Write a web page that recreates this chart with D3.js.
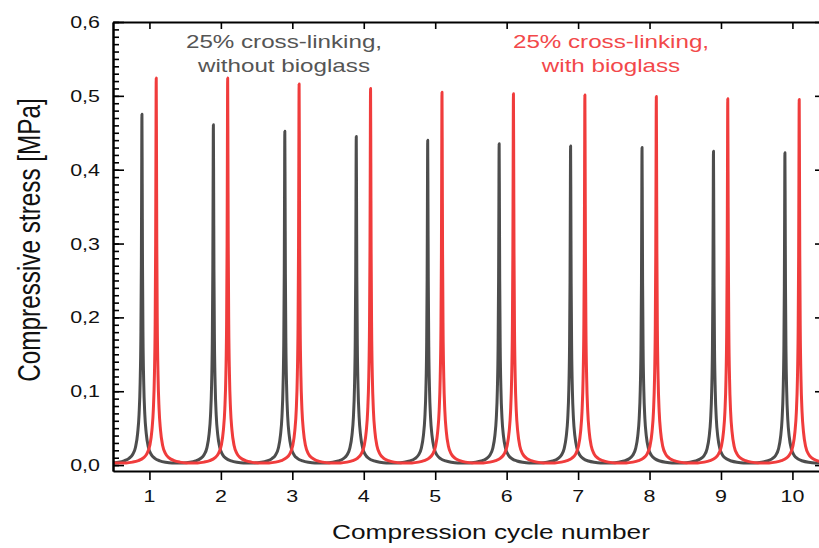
<!DOCTYPE html>
<html>
<head>
<meta charset="utf-8">
<script src="https://cdn.jsdelivr.net/npm/d3@7"></script>
<style>
  body { margin: 0; background: #fff; }
  svg { display: block; font-family: 'Liberation Sans', Arial, sans-serif; }
</style>
</head>
<body>
<svg id="chart" width="819" height="548"></svg>
<script>
// peak positions (cycle axis) and peak stress [MPa]
const grayPeakX = [0.895, 1.895, 2.895, 3.895, 4.895, 5.895, 6.895, 7.895, 8.895, 9.895]
const grayPeakStress = [0.475, 0.461, 0.452, 0.445, 0.440, 0.435, 0.432, 0.430, 0.425, 0.423]
const redPeakX = [1.095, 2.095, 3.095, 4.095, 5.095, 6.095, 7.095, 8.095, 9.095, 10.095]
const redPeakStress = [0.524, 0.524, 0.516, 0.510, 0.505, 0.503, 0.501, 0.499, 0.496, 0.495]

// shape of one loading peak: distance from the tip vs share of the peak height
const peakShapeDx = [0, 0.004, 0.008, 0.015, 0.025, 0.04, 0.06, 0.09, 0.13, 0.18, 0.25, 0.33, 0.42]
const peakShapeFrac = [1, 0.8, 0.57, 0.36, 0.23, 0.14, 0.085, 0.045, 0.024, 0.013, 0.006, 0.002, 0]
const baselineStress = 0.003

const xTicks = [1, 2, 3, 4, 5, 6, 7, 8, 9, 10]
const xTickLabels = ['1', '2', '3', '4', '5', '6', '7', '8', '9', '10']
const yTicks = [0, 0.1, 0.2, 0.3, 0.4, 0.5, 0.6]
const yTickLabels = ['0,0', '0,1', '0,2', '0,3', '0,4', '0,5', '0,6']
const yMinorTicks = d3.range(0, 61).map((d) => d / 100)

const grayText = ['25% cross-linking,', 'without bioglass']
const redText = ['25% cross-linking,', 'with bioglass']

const GRAY = '#4d4d4d'
const RED = '#f03c3c'
const STRETCH = 1.3

const plot = { left: 113, right: 826, top: 22, bottom: 471 }

const x = d3.scaleLinear().domain([0.49, 10.47]).range([plot.left, plot.right])
const y = d3.scaleLinear().domain([-0.008, 0.6]).range([plot.bottom, plot.top])

const buildSeries = (peakX, peakStress) => {
  const points = [[0.4, baselineStress]]
  peakX.forEach((px, i) => {
    const h = peakStress[i] - baselineStress
    for (let k = peakShapeDx.length - 1; k > 0; k--) {
      points.push([px - peakShapeDx[k], baselineStress + h * peakShapeFrac[k]])
    }
    points.push([px, peakStress[i]])
    for (let k = 1; k < peakShapeDx.length; k++) {
      points.push([px + peakShapeDx[k], baselineStress + h * peakShapeFrac[k]])
    }
  })
  points.push([10.6, baselineStress])
  return points
}

const svg = d3.select('#chart')

svg.append('defs').append('clipPath')
  .attr('id', 'plot-clip')
  .append('rect')
  .attr('x', plot.left)
  .attr('y', plot.top)
  .attr('width', plot.right - plot.left)
  .attr('height', plot.bottom - plot.top)

const line = d3.line()
  .x((d) => x(d[0]))
  .y((d) => y(d[1]))
  .curve(d3.curveMonotoneX)

const curves = svg.append('g').attr('clip-path', 'url(#plot-clip)')

curves.append('path')
  .datum(buildSeries(grayPeakX, grayPeakStress))
  .attr('d', line)
  .attr('fill', 'none')
  .attr('stroke', GRAY)
  .attr('stroke-width', 3)
  .attr('stroke-linejoin', 'round')

curves.append('path')
  .datum(buildSeries(redPeakX, redPeakStress))
  .attr('d', line)
  .attr('fill', 'none')
  .attr('stroke', RED)
  .attr('stroke-width', 3)
  .attr('stroke-linejoin', 'round')

// axes: ticks only, labels are drawn separately
const styleAxis = (g) => {
  g.select('.domain').attr('stroke', '#000').attr('stroke-width', 2)
  g.selectAll('.tick line').attr('stroke', '#000').attr('stroke-width', 1.6)
}

svg.append('g')
  .attr('transform', `translate(0,${plot.bottom})`)
  .call(d3.axisBottom(x).tickValues(xTicks).tickFormat('').tickSizeInner(9).tickSizeOuter(0))
  .call(styleAxis)

svg.append('g')
  .attr('transform', `translate(0,${plot.top})`)
  .call(d3.axisBottom(x).tickValues(xTicks).tickFormat('').tickSizeInner(7).tickSizeOuter(0))
  .call(styleAxis)

svg.append('g')
  .attr('transform', `translate(${plot.left},0)`)
  .call(d3.axisRight(y).tickValues(yMinorTicks).tickFormat('').tickSizeInner(6).tickSizeOuter(0))
  .call(styleAxis)

svg.append('g')
  .attr('transform', `translate(${plot.left},0)`)
  .call(d3.axisRight(y).tickValues(yTicks).tickFormat('').tickSizeInner(11).tickSizeOuter(0))
  .call(styleAxis)

svg.append('g')
  .attr('transform', `translate(${plot.right},0)`)
  .call(d3.axisLeft(y).tickValues(yTicks).tickFormat('').tickSizeInner(11).tickSizeOuter(0))
  .call(styleAxis)

// tick labels
svg.append('g')
  .selectAll('text')
  .data(xTicks)
  .enter()
  .append('text')
  .attr('transform', (d) => `translate(${x(d)},502) scale(${STRETCH},1)`)
  .attr('text-anchor', 'middle')
  .attr('font-size', 16.5)
  .attr('fill', '#111')
  .text((d, i) => xTickLabels[i])

svg.append('g')
  .selectAll('text')
  .data(yTicks)
  .enter()
  .append('text')
  .attr('transform', (d) => `translate(100,${y(d) + 6}) scale(${STRETCH},1)`)
  .attr('text-anchor', 'end')
  .attr('font-size', 16.5)
  .attr('fill', '#111')
  .text((d, i) => yTickLabels[i])

// axis titles
svg.append('text')
  .attr('transform', `translate(491,539) scale(${STRETCH},1)`)
  .attr('text-anchor', 'middle')
  .attr('font-size', 20.2)
  .attr('fill', '#111')
  .text('Compression cycle number')

svg.append('text')
  .attr('transform', `translate(39.5,240) scale(${STRETCH},1) rotate(-90)`)
  .attr('text-anchor', 'middle')
  .attr('font-size', 24.3)
  .attr('fill', '#111')
  .text('Compressive stress [MPa]')

// series annotations
const annotate = (lines, cx, color) => {
  svg.append('g')
    .selectAll('text')
    .data(lines)
    .enter()
    .append('text')
    .attr('transform', (d, i) => `translate(${cx},${48 + i * 23.5}) scale(${STRETCH},1)`)
    .attr('text-anchor', 'middle')
    .attr('font-size', 18.6)
    .attr('fill', color)
    .text((d) => d)
}

annotate(grayText, 284, '#555')
annotate(redText, 611, '#f2484a')
</script>
</body>
</html>
